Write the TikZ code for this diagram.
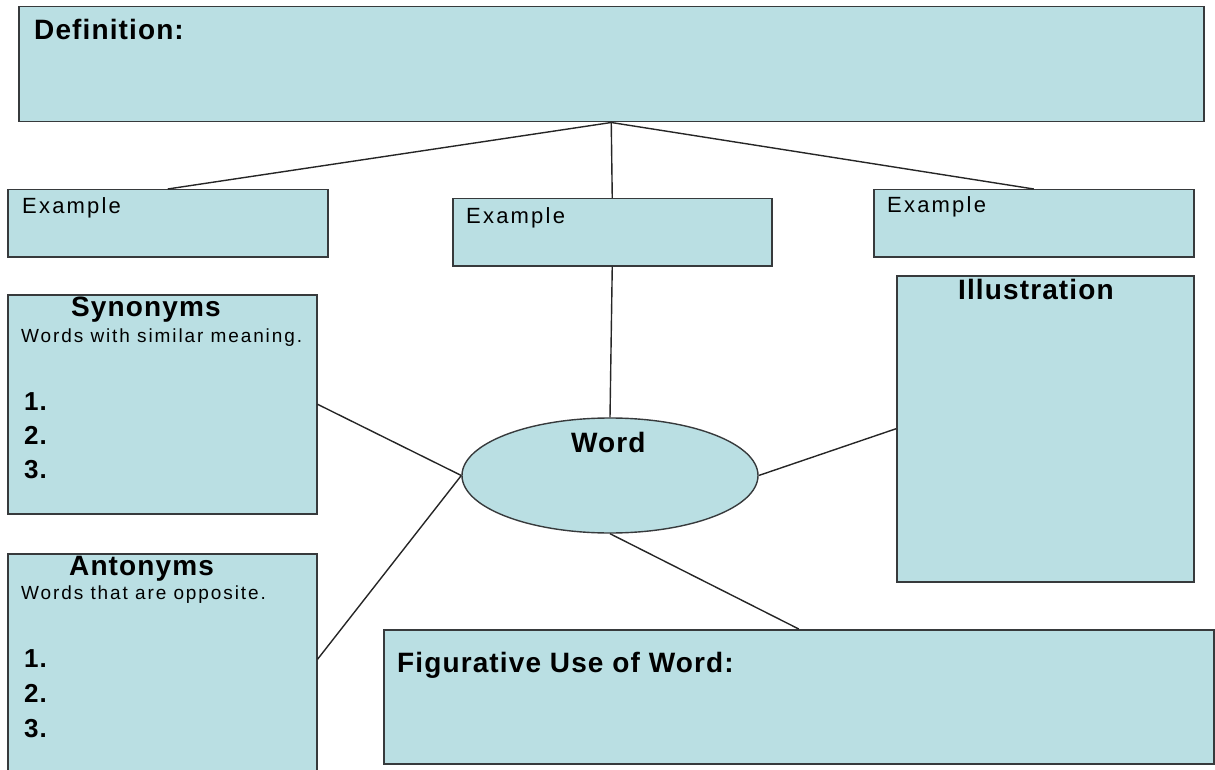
\documentclass[tikz,border=0pt]{standalone}
\usepackage{fontspec}
\setmainfont{Liberation Sans}
\newfontfamily\hdfont[LetterSpace=4]{Liberation Sans}
\newfontfamily\rgfont[LetterSpace=10]{Liberation Sans}
\usetikzlibrary{shapes.geometric}
\definecolor{boxfill}{RGB}{186,223,227}
\definecolor{boxline}{RGB}{55,58,60}
\tikzset{
  box/.style={draw=boxline, line width=1.5pt, fill=boxfill, rectangle, inner sep=0pt, anchor=north west},
  oval/.style={draw=boxline, line width=1.4pt, fill=boxfill, ellipse, inner sep=0pt},
  link/.style={draw=black!85, line width=1.4pt},
  txt/.style={anchor=base west, inner sep=0pt, text=black},
  head/.style={txt, font=\hdfont\bfseries\fontsize{28}{32}\selectfont},
  num/.style={txt, font=\hdfont\bfseries\fontsize{26}{30}\selectfont},
  exfont/.style={txt, font=\rgfont\fontsize{22}{26}\selectfont},
  small/.style={txt, font=\rgfont\fontsize{19}{22}\selectfont},
}
\begin{document}
\begin{tikzpicture}[x=1pt,y=-1pt]
\useasboundingbox (0,0) rectangle (1215,770);
\clip (0,0) rectangle (1215,770);
% boxes
\node[box, minimum width=1185pt, minimum height=115pt] (def) at (18,6) {};
\node[box, minimum width=320pt, minimum height=67pt] (ex1) at (7,189) {};
\node[box, minimum width=319pt, minimum height=67pt] (ex2) at (452,198) {};
\node[box, minimum width=320pt, minimum height=67pt] (ex3) at (873,189) {};
\node[box, minimum width=297pt, minimum height=306pt] (ill) at (896,275) {};
\node[box, minimum width=309pt, minimum height=219pt] (syn) at (7,294) {};
\node[box, minimum width=309pt, minimum height=222pt] (ant) at (7,553) {};
\node[box, minimum width=830pt, minimum height=134pt] (fig) at (383,629) {};
\node[oval, minimum width=296pt, minimum height=115pt] (word) at (610,475.5) {};
% connectors
\draw[link] (def.south) -- (ex1.north);
\draw[link] (def.south) -- (ex2.north);
\draw[link] (def.south) -- (ex3.north);
\draw[link] (ex2.south) -- (word.north);
\draw[link] (syn.east) -- (word.west);
\draw[link] (ant.2) -- (word.west);
\draw[link] (ill.west) -- (word.east);
\draw[link] (word.south) -- (fig.north);
% texts
\node[head] (tdef) at (34,40) {Definition:};
\node[exfont] (tex1) at (22,214) {Example};
\node[exfont] (tex2) at (466,223) {Example};
\node[exfont] (tex3) at (887,213) {Example};
\node[head] (tsyn) at (71,316) {Synonyms};
\node[small] (tsyn2) at (21,342) {Words with similar meaning.};
\node[num] (s1) at (24,410) {1.};
\node[num] (s2) at (24,444) {2.};
\node[num] (s3) at (24,478) {3.};
\node[head] (tant) at (69,575) {Antonyms};
\node[small] (tant2) at (21,599) {Words that are opposite.};
\node[num] (a1) at (24,667) {1.};
\node[num] (a2) at (24,702) {2.};
\node[num] (a3) at (24,737) {3.};
\node[head] (tword) at (571,452) {Word};
\node[head] (till) at (958,299) {Illustration};
\node[head] (tfig) at (397,672) {Figurative Use of Word:};
\end{tikzpicture}
\end{document}
